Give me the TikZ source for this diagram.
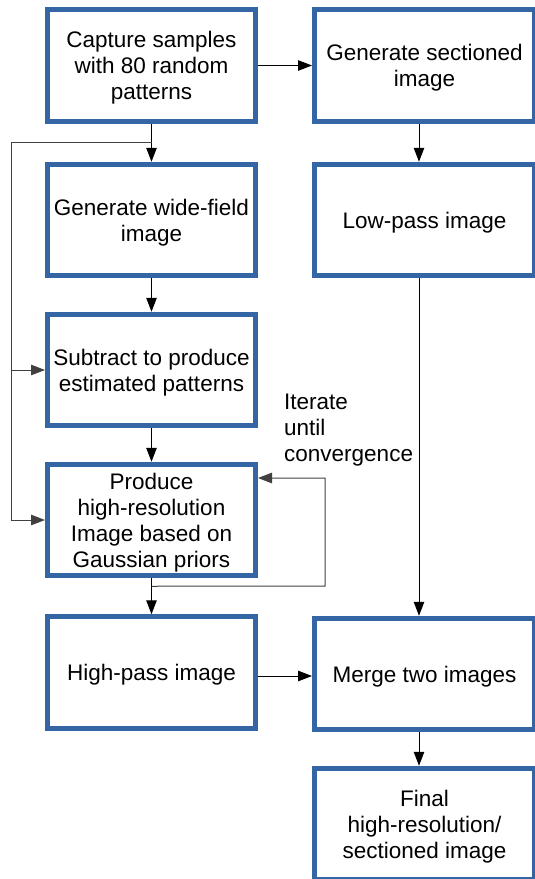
\documentclass[tikz,border=0pt]{standalone}
\usepackage{fontspec}
\setmainfont{Liberation Sans}
\usetikzlibrary{arrows.meta, positioning}
\definecolor{boxblue}{HTML}{3465A4}

\begin{document}
\begin{tikzpicture}[
  x=1pt, y=-1pt,
  box/.style={rectangle, draw=boxblue, line width=5pt,
              minimum width=208pt, minimum height=111.5pt, align=center,
              inner sep=2pt, text depth=0pt, font=\fontsize{22.5}{26}\selectfont},
  widebox/.style={box, minimum width=220pt},
  note/.style={align=left, inner sep=0pt, font=\fontsize{22.5}{26}\selectfont},
  arrow/.style={-{Triangle[length=14pt,width=10.5pt]}, line width=1pt, color=black},
  feed/.style={arrow, color=black!75, line width=1pt}
]
\useasboundingbox (0,0) rectangle (535,879);

\node[box] (capture) at (151.5,65.5) {Capture samples\\with 80 random\\patterns};
\node[box] (wide) at (151.5,220) {Generate wide-field\\image};
\node[box] (subtr) at (151.5,370) {Subtract to produce\\estimated patterns};
\node[box] (prod) at (151.5,520) {Produce\\high-resolution\\Image based on\\Gaussian priors};
\node[box] (highpass) at (151.5,672.5) {High-pass image};

\node[widebox] (sect) at (424.5,65.5) {Generate sectioned\\image};
\node[widebox] (lowpass) at (424.5,220) {Low-pass image};
\node[widebox] (merge) at (424.5,674) {Merge two images};
\node[widebox] (final) at (424.5,824) {Final\\high-resolution/\\sectioned image};

\node[note, anchor=west] (iter) at (284,430.5) {Iterate\\until\\convergence};

\coordinate (tap) at (151.5,142);
\coordinate (rail) at (11,142);
\coordinate (loopcorner) at (325,586);

\draw[arrow] (capture) -- (wide);
\draw[arrow] (capture) -- (sect);
\draw[arrow] (wide) -- (subtr);
\draw[arrow] (subtr) -- (prod);
\draw[arrow] (prod) -- (highpass);
\draw[arrow] ([xshift=-5.5pt]sect.south) -- ([xshift=-5.5pt]lowpass.north);
\draw[arrow] ([xshift=-5.5pt]lowpass.south) -- ([xshift=-5.5pt]merge.north);
\draw[arrow] ([xshift=-5.5pt]merge.south) -- ([xshift=-5.5pt]final.north);
\draw[arrow] ([yshift=-3.5pt]highpass.east) -- ([yshift=-3.5pt]highpass.east -| merge.west);

\draw[feed] (tap) -- (rail) |- (subtr.west);
\draw[feed] (rail) |- (prod.west);
\draw[feed] ([yshift=-8pt]prod.south) -- (loopcorner) |- ([yshift=42pt]prod.east);
\end{tikzpicture}
\end{document}
